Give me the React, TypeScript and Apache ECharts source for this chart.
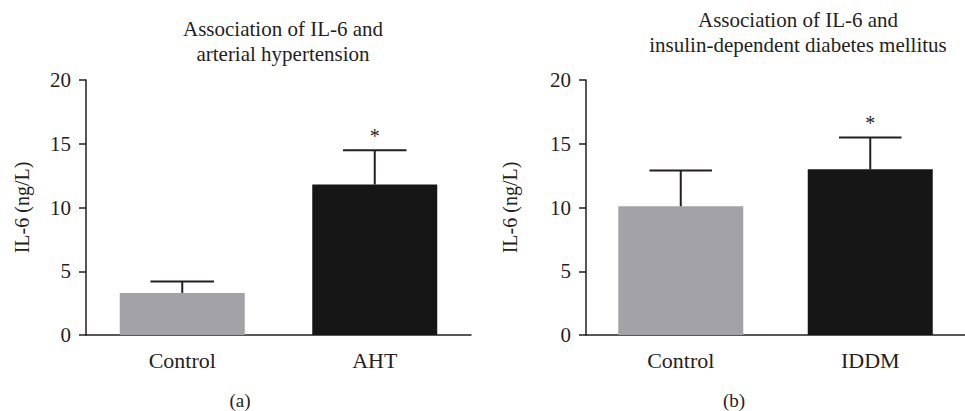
import React, { useEffect, useRef } from "react";
import * as echarts from "echarts";

const titleA = "Association of IL-6 and\narterial hypertension";
const titleB = "Association of IL-6 and\ninsulin-dependent diabetes mellitus";
const yAxisName = "IL-6 (ng/L)";
const panelLabels = ["(a)", "(b)"];

const categoriesA = ["Control", "AHT"];
const meansA = [3.3, 11.8];
const errTopA = [4.2, 14.5];
const sigA = [false, true];

const categoriesB = ["Control", "IDDM"];
const meansB = [10.1, 13.0];
const errTopB = [12.9, 15.5];
const sigB = [false, true];

const barColors = ["#a3a2a7", "#161616"];
const FONT = "'Liberation Serif', 'Times New Roman', serif";
const INK = "#231f20";

function errorSeries(gridIdx: number, means: number[], tops: number[], sig: boolean[]) {
  return {
    type: "custom",
    xAxisIndex: gridIdx,
    yAxisIndex: gridIdx,
    z: 5,
    data: means.map((m, i) => [i, m, tops[i], sig[i] ? 1 : 0]),
    renderItem: (params: any, api: any) => {
      const i = api.value(0);
      const base = api.coord([i, api.value(1)]);
      const top = api.coord([i, api.value(2)]);
      const half = api.size([1, 0])[0] * 0.165;
      const children: any[] = [
        {
          type: "line",
          shape: { x1: base[0], y1: base[1], x2: top[0], y2: top[1] },
          style: { stroke: INK, lineWidth: 2 },
        },
        {
          type: "line",
          shape: { x1: top[0] - half, y1: top[1], x2: top[0] + half, y2: top[1] },
          style: { stroke: INK, lineWidth: 2 },
        },
      ];
      if (api.value(3) === 1) {
        children.push({
          type: "text",
          x: top[0],
          y: top[1] - 14,
          style: {
            text: "*",
            fontSize: 20,
            fontFamily: FONT,
            fill: INK,
            align: "center",
            verticalAlign: "middle",
          },
        });
      }
      return { type: "group", children };
    },
  };
}

function barSeries(gridIdx: number, means: number[]) {
  return {
    type: "bar",
    xAxisIndex: gridIdx,
    yAxisIndex: gridIdx,
    barWidth: 125,
    data: means.map((v, i) => ({ value: v, itemStyle: { color: barColors[i] } })),
  };
}

function xAxis(gridIdx: number, cats: string[]) {
  return {
    type: "category",
    gridIndex: gridIdx,
    data: cats,
    boundaryGap: true,
    axisLine: { lineStyle: { color: INK, width: 1.5 } },
    axisTick: { alignWithLabel: true, length: 8, lineStyle: { color: INK, width: 1.5 } },
    axisLabel: { color: INK, fontSize: 22, fontFamily: FONT, margin: 14 },
  };
}

function yAxis(gridIdx: number, gap: number) {
  return {
    type: "value",
    gridIndex: gridIdx,
    min: 0,
    max: 20,
    interval: 5,
    name: yAxisName,
    nameLocation: "middle",
    nameGap: gap,
    nameRotate: 90,
    nameTextStyle: { color: INK, fontSize: 20, fontFamily: FONT },
    splitLine: { show: false },
    axisLine: { show: true, lineStyle: { color: INK, width: 1.5 } },
    axisTick: { show: true, length: 7, lineStyle: { color: INK, width: 1.5 } },
    axisLabel: { color: INK, fontSize: 21, fontFamily: FONT, margin: 15 },
  };
}

export default function App() {
  const ref = useRef<HTMLDivElement>(null);
  useEffect(() => {
    if (!ref.current) return;
    const chart = echarts.init(ref.current, undefined, { renderer: "svg" });
    chart.setOption({
      animation: false,
      backgroundColor: "#ffffff",
      title: [
        {
          text: titleA,
          left: 278,
          top: 11,
          textAlign: "center",
          textStyle: { color: INK, fontSize: 21, fontWeight: "normal", fontFamily: FONT, lineHeight: 25 },
        },
        {
          text: titleB,
          left: 793,
          top: 2,
          textAlign: "center",
          textStyle: { color: INK, fontSize: 21, fontWeight: "normal", fontFamily: FONT, lineHeight: 25 },
        },
        {
          text: panelLabels[0],
          left: 240,
          top: 391,
          padding: 0,
          textAlign: "center",
          textStyle: { color: INK, fontSize: 19, lineHeight: 19, fontWeight: "normal", fontFamily: FONT },
        },
        {
          text: panelLabels[1],
          left: 734,
          top: 391,
          padding: 0,
          textAlign: "center",
          textStyle: { color: INK, fontSize: 19, lineHeight: 19, fontWeight: "normal", fontFamily: FONT },
        },
      ],
      grid: [
        { left: 86, top: 80, width: 385, height: 255 },
        { left: 586, top: 80, width: 385, height: 255 },
      ],
      xAxis: [xAxis(0, categoriesA), xAxis(1, categoriesB)],
      yAxis: [yAxis(0, 54), yAxis(1, 66)],
      series: [
        barSeries(0, meansA),
        errorSeries(0, meansA, errTopA, sigA),
        barSeries(1, meansB),
        errorSeries(1, meansB, errTopB, sigB),
      ],
    });
    return () => chart.dispose();
  }, []);
  return (
    <div
      ref={ref}
      style={{ position: "absolute", left: 0, top: 0, width: 965, height: 411, background: "#fff" }}
    />
  );
}
